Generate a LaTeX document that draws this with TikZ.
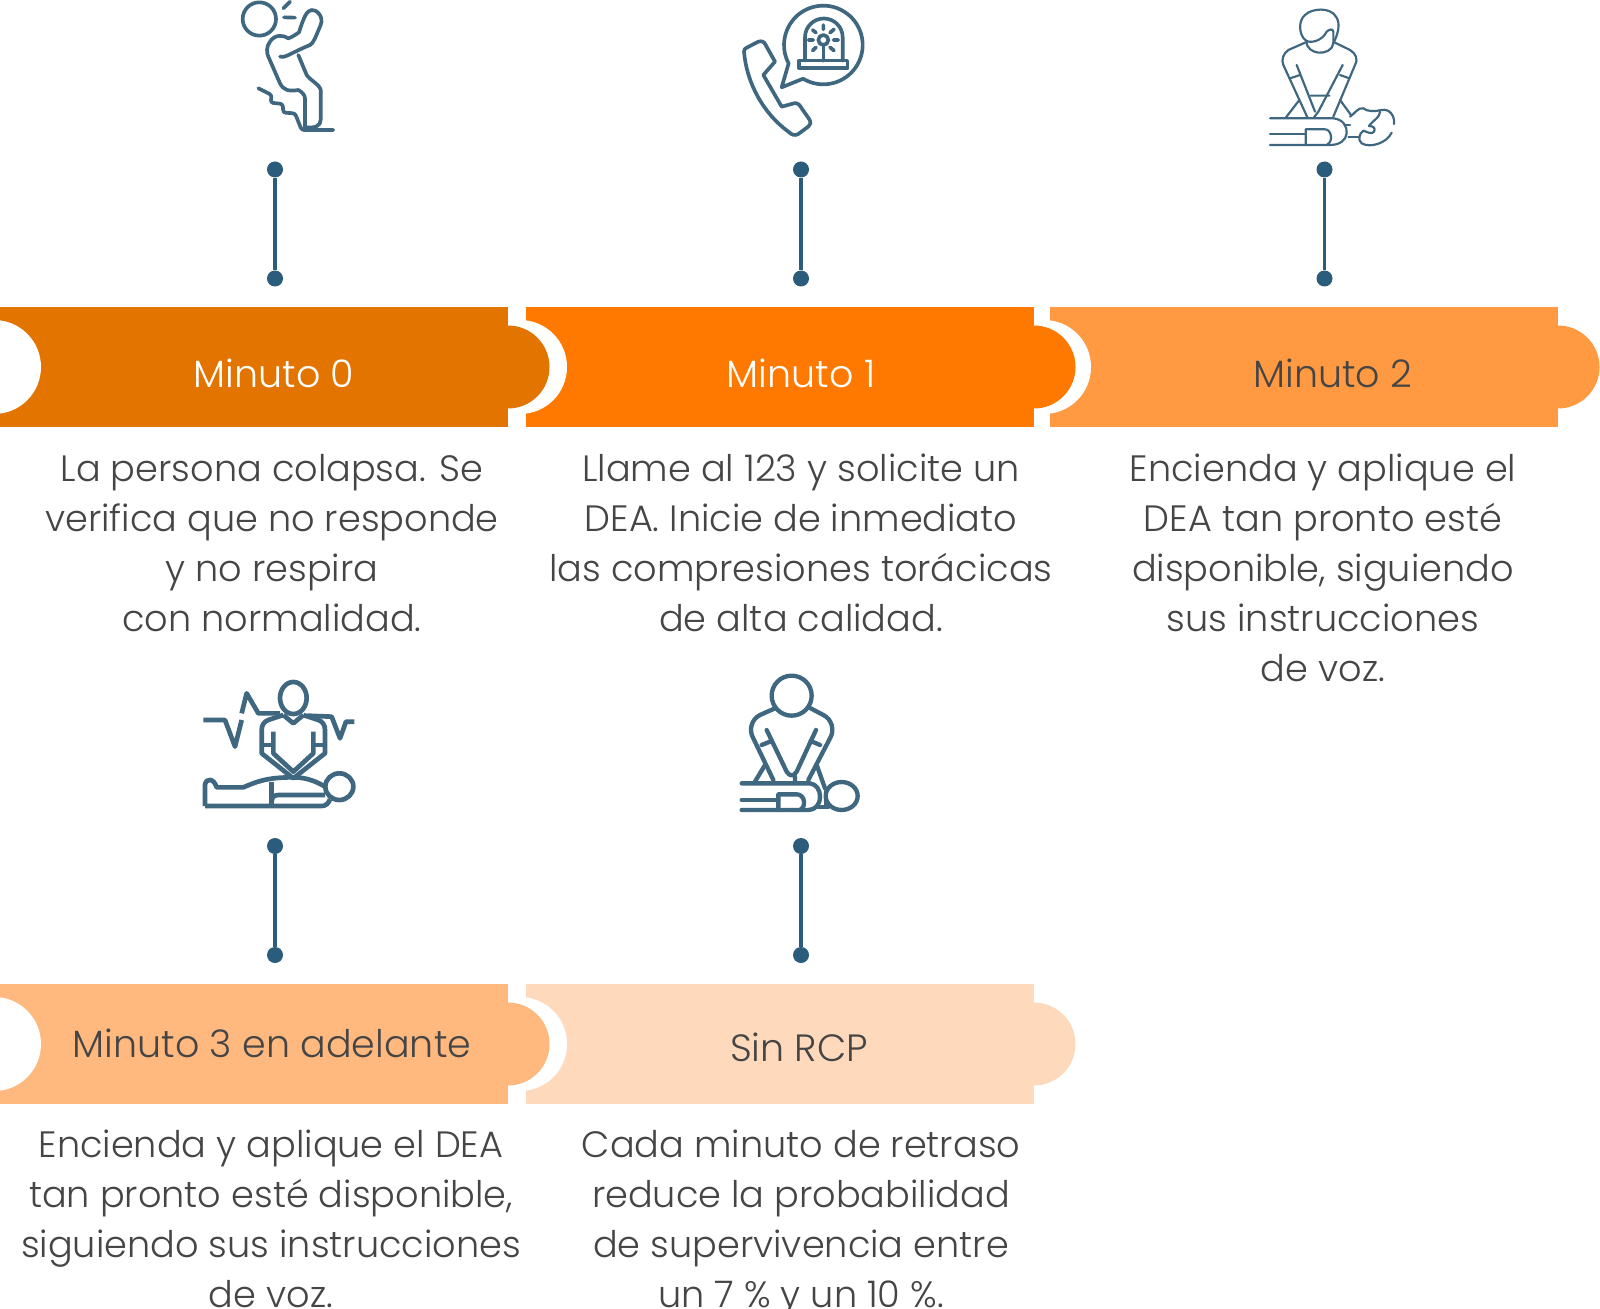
\documentclass[tikz,border=0pt]{standalone}
\usepackage{fontspec}
\setmainfont{Poppins Light}
\definecolor{iconc}{HTML}{3F6780}
\definecolor{dotc}{HTML}{2B5C7C}
\definecolor{txt}{HTML}{454545}
\definecolor{bA}{HTML}{E37400}
\definecolor{bB}{HTML}{FF7900}
\definecolor{bC}{HTML}{FF9A42}
\definecolor{bD}{HTML}{FFB97F}
\definecolor{bE}{HTML}{FFD9BC}
\tikzset{
  dotn/.style={circle,fill=dotc,minimum size=9.6pt,inner sep=0pt},
  conn/.style={draw=dotc,line width=1.9pt},
  band/.style={font=\fontsize{22.8}{26}\selectfont,inner sep=0pt},
  para/.style={font=\fontsize{22}{30}\selectfont,text=txt,align=center,inner sep=0pt,anchor=north},
  ico/.style={draw=iconc,line width=2.2pt,line cap=round,line join=round},
  icot/.style={draw=iconc,line width=1.3pt,line cap=round,line join=round},
}
\newcommand{\bandshape}[3]{%
  \fill[#3] (#1,#2) rectangle ++(508,120);
  \fill[#3] (#1+508,#2+60) circle[radius=41.5];
}
\newcommand{\notchshape}[2]{\fill[white] (#1-6,#2+60) circle[radius=47];}
\begin{document}
\begin{tikzpicture}[x=0.6pt,y=-0.6pt]
\useasboundingbox (0,0) rectangle (1600,1309);
\fill[white] (0,0) rectangle (1600,1309);
% row 1, drawn right to left
\fill[bC] (1050,307) rectangle (1558,427);
\notchshape{1050}{307}
\fill[bC] (1558,367) circle[radius=41.5];
\bandshape{526}{307}{bB}
\notchshape{526}{307}
\bandshape{0}{307}{bA}
\notchshape{0}{307}
% row 2
\bandshape{526}{984}{bE}
\notchshape{526}{984}
\bandshape{0}{984}{bD}
\notchshape{0}{984}
% labels
\node[band,text=white] (l0) at (274,373) {Minuto 0};
\node[band,text=white] (l1) at (801,373) {Minuto 1};
\node[band,text=txt] (l2) at (1333,373) {Minuto 2};
\node[band,text=txt] (l3) at (272,1043) {Minuto 3 en adelante};
\node[band,text=txt] (l4) at (799,1047) {Sin RCP};
% paragraphs
\node[para] (p0) at (272,454) {La persona colapsa. Se\\verifica que no responde\\y no respira\\con normalidad.};
\node[para] (p1) at (801,454) {Llame al 123 y solicite un\\DEA. Inicie de inmediato\\las compresiones torácicas\\de alta calidad.};
\node[para] (p2) at (1323,454) {Encienda y aplique el\\DEA tan pronto esté\\disponible, siguiendo\\sus instrucciones\\de voz.};
\node[para] (p3) at (271,1130) {Encienda y aplique el DEA\\tan pronto esté disponible,\\siguiendo sus instrucciones\\de voz.};
\node[para] (p4) at (801,1130) {Cada minuto de retraso\\reduce la probabilidad\\de supervivencia entre\\un 7 \% y un 10 \%.};
% connectors
\node[dotn] (a0) at (275,169.5) {}; \node[dotn] (b0) at (275,278.5) {};
\node[dotn] (a1) at (801,169.5) {}; \node[dotn] (b1) at (801,278.5) {};
\node[dotn] (a2) at (1324.5,169.5) {}; \node[dotn] (b2) at (1324.5,278.5) {};
\node[dotn] (a3) at (275,846) {}; \node[dotn] (b3) at (275,955) {};
\node[dotn] (a4) at (801,846) {}; \node[dotn] (b4) at (801,955) {};
\foreach \i in {0,...,4} \draw[conn] (a\i) -- (b\i);
% icon 1
\begin{scope}[shift={(200,0)},scale=1/3,ico]
\draw (178,57) circle[radius=50];
\draw (250,25)--(270,5);
\draw (252,52)--(285,53);
\draw (240,170) .. controls (255,175) and (270,160) .. (330,135) .. controls (340,130) and (345,115) .. (362,75) .. controls (372,50) and (350,28) .. (335,30) .. controls (320,32) and (312,50) .. (297,97) .. controls (285,105) and (275,112) .. (265,115) .. controls (250,105) and (225,102) .. (210,125) .. controls (198,140) and (200,160) .. (205,170) -- (240,250) .. controls (250,270) and (265,275) .. (295,270) .. controls (305,275) and (315,285) .. (315,295) -- (315,382);
\draw (295,165)--(320,225) .. controls (330,240) and (360,255) .. (362,270) -- (362,360) .. controls (362,378) and (345,385) .. (315,382);
\draw[rounded corners=1.5pt] (175,265)--(215,285)--(212,308)--(248,312)--(250,338)--(285,340)--(305,390)--(400,390);
\end{scope}
% icon 2
\begin{scope}[shift={(720,0)},scale=1/3,ico]
\draw ([shift={(310,135)}]121:118) arc[start angle=121,end angle=-208,radius=118] -- (185,262) -- cycle;
\draw (237,182) rectangle (382,205);
\draw (255,182) -- (255,112) arc[start angle=180,end angle=360,radius=56.5] -- (368,182);
\draw (310,120) circle[radius=15];
\draw (310,135)--(310,182);
\draw (265,120)--(280,120) (340,120)--(355,120) (310,75)--(310,88) (278,90)--(288,98) (342,88)--(330,98) (278,152)--(288,142) (342,152)--(330,142);
\draw (72,155) .. controls (72,148) and (75,145) .. (82,142) -- (115,125) .. controls (125,122) and (133,125) .. (137,135) -- (165,185) -- (130,225) -- (185,320) -- (222,310) .. controls (232,308) and (238,313) .. (245,325) -- (268,358) .. controls (275,368) and (270,375) .. (262,382) -- (235,402) .. controls (225,408) and (215,405) .. (205,395) .. controls (130,340) and (80,250) .. (72,155) -- cycle;
\end{scope}
% icon 3
\begin{scope}[shift={(1250,0)},scale=1/3,icot]
\draw (168,122) .. controls (145,105) and (145,60) .. (165,45) .. controls (185,25) and (240,20) .. (258,50) .. controls (272,70) and (265,100) .. (250,130);
\draw (168,122) .. controls (180,130) and (215,125) .. (230,95) .. controls (238,88) and (248,85) .. (250,95) -- (250,130) .. controls (248,150) and (225,160) .. (205,158) .. controls (185,155) and (172,145) .. (168,125);
\draw (165,128) -- (115,150) .. controls (100,160) and (93,180) .. (100,195) -- (172,352);
\draw (140,195) -- (195,335);
\draw (255,128) -- (300,150) .. controls (318,160) and (325,180) .. (315,195) -- (250,350);
\draw (278,195) -- (205,335) -- (192,352);
\draw (120,235)--(150,225) (298,235)--(270,225) (182,287)--(238,287) (148,300)--(108,352) (270,300)--(303,345);
\draw (60,355) -- (250,355) .. controls (280,358) and (292,380) .. (290,400) .. controls (288,420) and (270,435) .. (240,435) -- (60,435);
\draw (60,402)--(167,402);
\draw (167,435) -- (167,388) -- (225,388) .. controls (245,388) and (250,425) .. (232,433);
\draw (283,375)--(300,375) (295,410)--(325,410);
\draw (300,350) .. controls (310,345) and (325,320) .. (340,325) .. controls (350,335) and (375,335) .. (395,330) .. controls (420,325) and (435,350) .. (432,372);
\draw (390,335) .. controls (392,350) and (365,365) .. (357,378) .. controls (370,378) and (378,385) .. (372,395) .. controls (365,405) and (350,395) .. (340,392) .. controls (328,400) and (322,420) .. (335,430) .. controls (360,445) and (410,430) .. (425,398);
\end{scope}
% icon 4
\begin{scope}[shift={(190,670)},scale=1/3,ico,line cap=butt,line width=2.8pt]
\draw (310,84) ellipse[x radius=40,y radius=48];
\draw (40,150)--(105,150)--(135,230)--(155,150);
\draw (155,130)--(170,70)--(205,130)--(270,130);
\draw (352,137)--(425,140)--(450,205)--(468,155)--(493,155);
\draw (280,135) -- (235,150) .. controls (222,155) and (215,165) .. (215,180) -- (215,250) -- (310,325) -- (405,250) -- (405,180) .. controls (405,165) and (398,155) .. (385,150) -- (340,135);
\draw (280,135) -- (310,160) -- (340,135);
\draw (250,185)--(250,250)--(310,305)--(370,250)--(370,185);
\draw (215,225)--(250,225) (370,225)--(405,225);
\draw (45,408) -- (45,345) .. controls (48,322) and (72,325) .. (80,352) -- (160,352) .. controls (200,335) and (230,322) .. (310,322) .. controls (350,322) and (380,335) .. (405,350);
\draw (45,408) -- (395,408) .. controls (408,408) and (415,400) .. (420,388);
\draw (448,350) ellipse[x radius=42,y radius=40];
\draw (245,335)--(245,408);
\draw (245,395) .. controls (245,380) and (255,375) .. (265,375) -- (405,375);
\end{scope}
% icon 5
\begin{scope}[shift={(720,665)},scale=1/3,ico,line width=2.6pt]
\draw (215,92) circle[radius=60];
\draw (165,130) -- (120,150) .. controls (95,162) and (85,195) .. (100,220) -- (160,345);
\draw (140,195) -- (200,320) .. controls (210,335) and (220,335) .. (230,320) -- (288,195);
\draw (272,130) -- (310,150) .. controls (335,162) and (345,195) .. (330,220) -- (265,345);
\draw (125,240)--(155,228) (300,240)--(272,228) (135,300)--(105,350) (290,300)--(315,370) (225,335)--(225,352);
\draw (65,355) -- (270,355) .. controls (290,358) and (300,375) .. (300,395) .. controls (300,420) and (285,435) .. (265,435) -- (65,435);
\draw (65,405)--(175,405);
\draw (175,435) -- (175,388) -- (230,388) .. controls (255,388) and (260,425) .. (240,435);
\draw (318,380)--(318,420) (295,425)--(325,425);
\draw (365,393) ellipse[x radius=48,y radius=42];
\end{scope}
\end{tikzpicture}
\end{document}
